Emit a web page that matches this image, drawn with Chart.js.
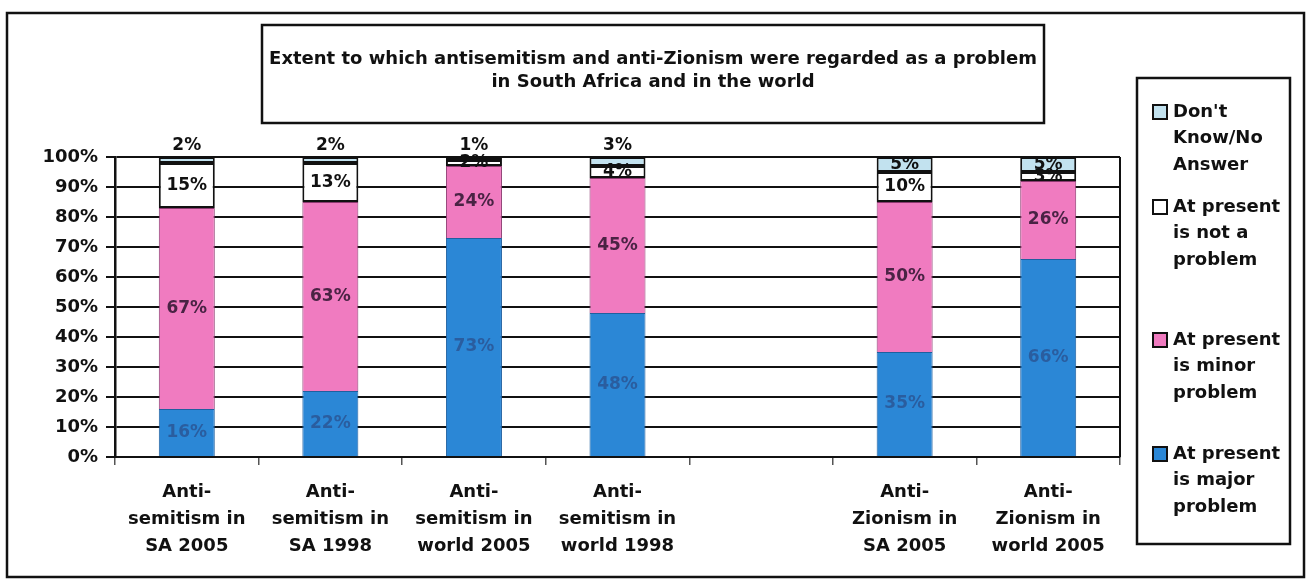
<!DOCTYPE html>
<html>
<head>
<meta charset="utf-8">
<title>Antisemitism and anti-Zionism as a problem</title>
<script src="https://cdn.jsdelivr.net/npm/chart.js@4.4.1/dist/chart.umd.min.js"></script>
<style>
  html, body { margin: 0; padding: 0; background: #ffffff; }
  #wrap { width: 1311px; height: 579px; position: relative; }
  canvas { display: block; }
</style>
</head>
<body>
<div id="wrap"><canvas id="chart" width="1311" height="579"></canvas></div>
<script>
// Survey groups (x axis); the blank slot separates the two topics
const categories = [
  ['Anti-', 'semitism in', 'SA 2005'],
  ['Anti-', 'semitism in', 'SA 1998'],
  ['Anti-', 'semitism in', 'world 2005'],
  ['Anti-', 'semitism in', 'world 1998'],
  '',
  ['Anti-', 'Zionism in', 'SA 2005'],
  ['Anti-', 'Zionism in', 'world 2005']
];

// Percent of respondents per answer
const majorProblem = [16, 22, 73, 48, null, 35, 66];
const minorProblem = [67, 63, 24, 45, null, 50, 26];
const notAProblem  = [15, 13, 2, 4, null, 10, 3];
const dontKnow     = [2, 2, 1, 3, null, 5, 5];

// Y axis ticks
const yTicks = [0, 10, 20, 30, 40, 50, 60, 70, 80, 90, 100];

const titleLines = [
  'Extent to which antisemitism and anti-Zionism were regarded as a problem',
  'in South Africa and in the world'
];

// Legend entries, top to bottom
const legendLines = [
  ["Don't", 'Know/No', 'Answer'],
  ['At present', 'is not a', 'problem'],
  ['At present', 'is minor', 'problem'],
  ['At present', 'is major', 'problem']
];

const FONT = "'DejaVu Sans', 'Liberation Sans', Arial, sans-serif";
const COL_MAJOR = '#2b87d6';
const COL_MINOR = '#f07bc0';
const COL_NOT = '#ffffff';
const COL_DK = '#c2e2ef';

Chart.defaults.font.family = FONT;
Chart.defaults.color = '#111111';

// Page frame, title box and legend box
const framePlugin = {
  id: 'frame',
  beforeDraw(chart) {
    const ctx = chart.ctx;
    ctx.save();
    ctx.fillStyle = '#ffffff';
    ctx.fillRect(0, 0, chart.width, chart.height);
    ctx.restore();
  },
  afterDraw(chart) {
    const ctx = chart.ctx;
    const area = chart.chartArea;
    ctx.save();
    ctx.strokeStyle = '#111111';

    // right edge of the plot
    ctx.lineWidth = 2;
    ctx.beginPath();
    ctx.moveTo(area.right, area.top);
    ctx.lineTo(area.right, area.bottom);
    ctx.stroke();

    // outer frame
    ctx.lineWidth = 2.5;
    ctx.strokeRect(7, 13, 1297, 564);

    // title box
    ctx.lineWidth = 2.5;
    ctx.strokeRect(262, 25, 782, 98);
    ctx.fillStyle = '#111111';
    ctx.font = 'bold 18px ' + FONT;
    ctx.textAlign = 'center';
    ctx.textBaseline = 'middle';
    ctx.fillText(titleLines[0], 653, 59);
    ctx.fillText(titleLines[1], 653, 82);

    // legend box
    ctx.lineWidth = 2.5;
    ctx.strokeRect(1137, 78, 153, 466);
    const legendColors = [COL_DK, COL_NOT, COL_MINOR, COL_MAJOR];
    const firstLineY = [112, 207, 340, 454];
    ctx.font = 'bold 18px ' + FONT;
    ctx.textAlign = 'left';
    legendLines.forEach((lines, i) => {
      const y0 = firstLineY[i];
      ctx.fillStyle = legendColors[i];
      ctx.fillRect(1153, y0 - 7, 14, 14);
      ctx.lineWidth = 2;
      ctx.strokeStyle = '#111111';
      ctx.strokeRect(1153, y0 - 7, 14, 14);
      ctx.fillStyle = '#111111';
      lines.forEach((t, k) => ctx.fillText(t, 1173, y0 + k * 26.5));
    });
    ctx.restore();
  }
};

// Percent labels on each segment
const labelPlugin = {
  id: 'segmentLabels',
  afterDatasetsDraw(chart) {
    const ctx = chart.ctx;
    ctx.save();
    ctx.font = 'bold 17px ' + FONT;
    ctx.textAlign = 'center';
    ctx.textBaseline = 'middle';
    chart.data.datasets.forEach((ds, i) => {
      const meta = chart.getDatasetMeta(i);
      meta.data.forEach((bar, j) => {
        const v = ds.data[j];
        if (v === null || v === undefined) return;
        const p = bar.getProps(['x', 'y', 'base'], true);
        let y = (p.y + p.base) / 2;
        if (ds.labelAbove && v < 4) y = p.y - 11;
        ctx.fillStyle = ds.labelColor;
        ctx.fillText(v + '%', p.x, y);
      });
    });
    ctx.restore();
  }
};

new Chart(document.getElementById('chart'), {
  type: 'bar',
  data: {
    labels: categories,
    datasets: [
      {
        label: 'At present is major problem',
        data: majorProblem,
        backgroundColor: COL_MAJOR,
        borderColor: '#1f5f9f',
        borderWidth: 1,
        labelColor: '#2a5d9f'
      },
      {
        label: 'At present is minor problem',
        data: minorProblem,
        backgroundColor: COL_MINOR,
        borderColor: '#8c3a70',
        borderWidth: 1,
        labelColor: '#4a2344'
      },
      {
        label: 'At present is not a problem',
        data: notAProblem,
        backgroundColor: COL_NOT,
        borderColor: '#111111',
        borderWidth: 2,
        borderSkipped: false,
        labelColor: '#111111'
      },
      {
        label: "Don't Know/No Answer",
        data: dontKnow,
        backgroundColor: COL_DK,
        borderColor: '#111111',
        borderWidth: 2,
        borderSkipped: false,
        labelColor: '#111111',
        labelAbove: true
      }
    ]
  },
  options: {
    responsive: false,
    animation: false,
    layout: { padding: { top: 157, left: 0, right: 191, bottom: 0 } },
    datasets: {
      bar: { barPercentage: 0.39, categoryPercentage: 1.0 }
    },
    plugins: {
      legend: { display: false },
      title: { display: false },
      tooltip: { enabled: false }
    },
    scales: {
      x: {
        stacked: true,
        offset: true,
        grid: {
          display: true,
          offset: true,
          drawOnChartArea: false,
          drawTicks: true,
          tickLength: 8,
          color: '#555555',
          lineWidth: 1.5
        },
        border: { display: true, color: '#111111', width: 2 },
        ticks: {
          font: { size: 18, weight: 'bold', lineHeight: 1.5 },
          color: '#111111',
          padding: 14,
          maxRotation: 0,
          autoSkip: false
        },
        afterFit(scale) { scale.height = 122; }
      },
      y: {
        stacked: true,
        min: 0,
        max: 100,
        afterBuildTicks(scale) { scale.ticks = yTicks.map(v => ({ value: v })); },
        grid: {
          color: '#111111',
          lineWidth: 2,
          drawTicks: true,
          tickLength: 9
        },
        border: { display: true, color: '#111111', width: 2.5 },
        ticks: {
          font: { size: 18, weight: 'bold' },
          color: '#111111',
          padding: 8,
          callback: v => v + '%'
        },
        afterFit(scale) { scale.width = 115; }
      }
    }
  },
  plugins: [framePlugin, labelPlugin]
});
</script>
</body>
</html>
